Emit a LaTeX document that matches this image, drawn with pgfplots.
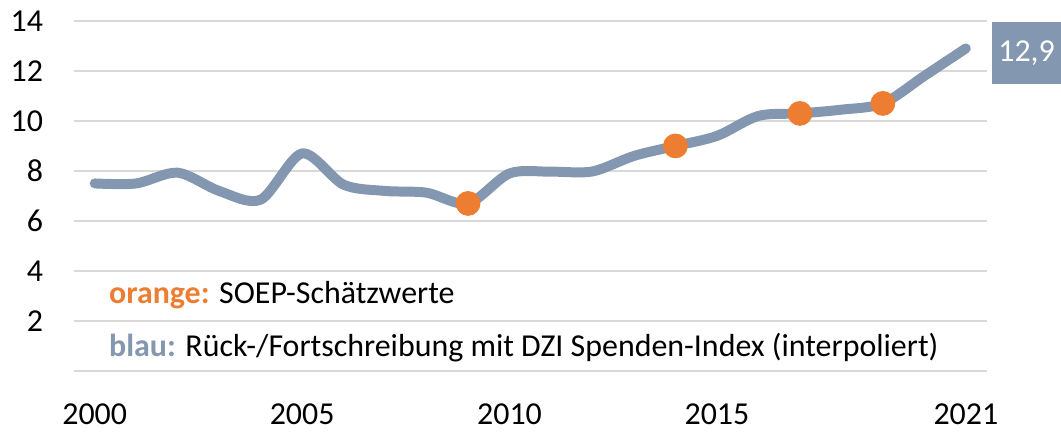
\documentclass[border=0pt]{standalone}
\usepackage{pgfplots}
\pgfplotsset{compat=1.18}
\usepackage{fontspec}
\setmainfont{Carlito}
\definecolor{lblue}{HTML}{8497B0}
\definecolor{lorange}{HTML}{ED7D31}
\definecolor{lgrid}{HTML}{D9D9D9}
\begin{document}
\fontsize{16pt}{19pt}\selectfont
\begin{tikzpicture}
\begin{axis}[
  scale only axis,
  width=457.5pt, height=175.5pt,
  xmin=1999.5, xmax=2021.5,
  ymin=0, ymax=14,
  axis line style={draw=none},
  clip=false,
  ymajorgrids,
  grid style={lgrid, line width=1pt},
  ytick={0,2,4,6,8,10,12,14},
  yticklabels={{},2,4,6,8,10,12,14},
  xtick={2000,2005,2010,2015,2021},
  xticklabels={2000,2005,2010,2015,2021},
  major tick length=0pt,
  tick style={draw=none},
  /pgf/number format/assume math mode=true,
  tick label style={font=\fontsize{16pt}{19pt}\selectfont, text=black},
  xticklabel style={yshift=-11pt},
  yticklabel style={xshift=-10pt},
]
\path ([xshift=-36pt,yshift=-30pt]rel axis cs:0,0) rectangle ([xshift=37pt,yshift=10pt]rel axis cs:1,1);
\addplot[lblue, line width=5pt, smooth, line cap=round, line join=round] coordinates {
(2000,7.5) (2001,7.5) (2002,7.93) (2003,7.2) (2004,6.85) (2005,8.7)
(2006,7.45) (2007,7.2) (2008,7.13) (2009,6.7) (2010,7.9) (2011,7.97)
(2012,7.98) (2013,8.6) (2014,9.0) (2015,9.4) (2016,10.2) (2017,10.3)
(2018,10.45) (2019,10.7) (2020,11.8) (2021,12.9)
};
\addplot[only marks, mark=*, mark size=6pt, lorange, mark options={draw=lorange, fill=lorange}] coordinates {
(2009,6.7) (2014,9.0) (2017,10.3) (2019,10.7)
};
\node[anchor=west, fill=lblue, text=white, minimum width=34.5pt, minimum height=31pt, inner sep=0pt, xshift=13pt, yshift=-2.5pt] at (axis cs:2021,12.9) {12,9};
\node[anchor=west, inner sep=0pt] at (axis cs:2000.34,3.03) {\textcolor{lorange}{\textbf{orange:}} SOEP-Schätzwerte};
\node[anchor=west, inner sep=0pt] at (axis cs:2000.34,0.92) {\textcolor{lblue}{\textbf{blau:}} Rück-/Fortschreibung mit DZI Spenden-Index (interpoliert)};
\end{axis}
\end{tikzpicture}
\end{document}
